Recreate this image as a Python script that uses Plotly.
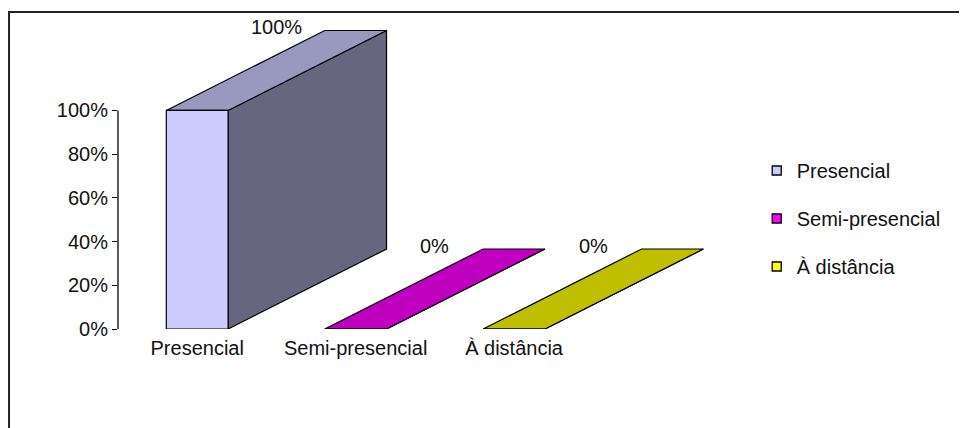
import plotly.graph_objects as go

# ---- data ----
categories = ["Presencial", "Semi-presencial", "À distância"]
values = [1.0, 0.0, 0.0]
value_labels = ["100%", "0%", "0%"]
y_tick_values = [0, 0.2, 0.4, 0.6, 0.8, 1.0]
y_tick_labels = ["0%", "20%", "40%", "60%", "80%", "100%"]

# ---- styles ----
front_colors = ["#CCCCFF", "#FF00FF", "#FFFF00"]
top_colors = ["#9999BF", "#BF00BF", "#BFBF00"]
side_colors = ["#666680", "#800080", "#808000"]
FONT = "Liberation Sans, Arial, sans-serif"
BAR_W = 0.39      # bar width in category units
DX = 1.0          # 3D depth offset (x, category units)
DY = 0.366        # 3D depth offset (y, value units)

fig = go.Figure()

for i, (cat, v) in enumerate(zip(categories, values)):
    x0, x1 = i - BAR_W / 2, i + BAR_W / 2
    # side face
    fig.add_trace(go.Scatter(
        x=[x1, x1 + DX, x1 + DX, x1, x1],
        y=[0, DY, v + DY, v, 0],
        fill="toself", fillcolor=side_colors[i], mode="lines",
        line=dict(color="black", width=1.2), showlegend=False, hoverinfo="skip"))
    # top face
    fig.add_trace(go.Scatter(
        x=[x0, x1, x1 + DX, x0 + DX, x0],
        y=[v, v, v + DY, v + DY, v],
        fill="toself", fillcolor=top_colors[i], mode="lines",
        line=dict(color="black", width=1.2), showlegend=False, hoverinfo="skip"))
    # front face
    fig.add_trace(go.Scatter(
        x=[x0, x1, x1, x0, x0],
        y=[0, 0, v, v, 0],
        fill="toself", fillcolor=front_colors[i], mode="lines",
        line=dict(color="black", width=1.2), showlegend=False, hoverinfo="skip"))
    fig.add_annotation(x=i + DX / 2, y=v + DY, yshift=3, text=value_labels[i],
                       showarrow=False, yanchor="middle",
                       font=dict(family=FONT, size=20, color="#111111"))

# legend entries
for i, cat in enumerate(categories):
    fig.add_trace(go.Scatter(
        x=[None], y=[None], mode="markers", name=cat, legendgroup=cat,
        marker=dict(symbol="square", size=9, color=front_colors[i],
                    line=dict(color="black", width=1.3))))

# y axis line (0..100%)
fig.add_shape(type="line", xref="paper", yref="y", x0=0, x1=0, y0=0, y1=1,
              line=dict(color="black", width=1.3))
# outer frame
fig.add_shape(type="rect", xref="paper", yref="paper",
              x0=-0.181, x1=1.45, y0=-0.4, y1=1.026,
              line=dict(color="#222222", width=2))

fig.update_layout(
    width=959, height=420,
    margin=dict(l=110, r=247, t=12, b=99),
    paper_bgcolor="white", plot_bgcolor="white",
    font=dict(family=FONT, size=20, color="#111111"),
    xaxis=dict(range=[-0.5, 3.3], tickvals=list(range(len(categories))),
               ticktext=categories, showgrid=False, zeroline=False,
               showline=False, ticks="", ticklabelstandoff=5,
               tickfont=dict(size=20)),
    yaxis=dict(range=[0, 1.414], tickvals=y_tick_values, ticktext=y_tick_labels,
               showgrid=False, zeroline=False, showline=False,
               ticks="outside", ticklen=5, tickwidth=1.3, tickcolor="black",
               ticklabelstandoff=0, tickfont=dict(size=20)),
    legend=dict(x=1.061, xanchor="left", y=0.576, yanchor="top",
                tracegroupgap=19, font=dict(size=20), bgcolor="rgba(0,0,0,0)"),
    showlegend=True,
)

fig.write_html("out.html", default_width="959px", default_height="420px",
               post_script="document.documentElement.style.overflow='hidden';")
